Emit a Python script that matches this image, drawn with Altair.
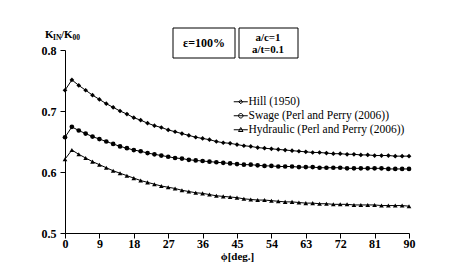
import altair as alt
import pandas as pd

# ---- data ----
deg = [round(1.8 * i, 1) for i in range(51)]

hill = [0.734, 0.751, 0.742, 0.734, 0.726, 0.719, 0.712, 0.706, 0.700, 0.695,
        0.689, 0.685, 0.680, 0.676, 0.673, 0.669, 0.666, 0.663, 0.660, 0.657,
        0.655, 0.653, 0.650, 0.648, 0.647, 0.645, 0.643, 0.642, 0.640, 0.639,
        0.638, 0.637, 0.636, 0.635, 0.634, 0.633, 0.632, 0.632, 0.631, 0.630,
        0.630, 0.629, 0.629, 0.628, 0.628, 0.627, 0.627, 0.627, 0.626, 0.626,
        0.626]

swage = [0.657, 0.674, 0.668, 0.663, 0.658, 0.654, 0.650, 0.646, 0.642, 0.639,
         0.636, 0.634, 0.631, 0.629, 0.627, 0.625, 0.623, 0.622, 0.620, 0.619,
         0.618, 0.617, 0.616, 0.615, 0.614, 0.613, 0.612, 0.612, 0.611, 0.610,
         0.610, 0.609, 0.609, 0.609, 0.608, 0.608, 0.608, 0.607, 0.607, 0.607,
         0.607, 0.606, 0.606, 0.606, 0.606, 0.606, 0.606, 0.605, 0.605, 0.605,
         0.605]

hydraulic = [0.621, 0.636, 0.629, 0.623, 0.617, 0.612, 0.607, 0.602, 0.598, 0.594,
             0.590, 0.586, 0.583, 0.580, 0.577, 0.575, 0.573, 0.570, 0.568, 0.566,
             0.565, 0.563, 0.561, 0.560, 0.559, 0.558, 0.556, 0.555, 0.554, 0.554,
             0.553, 0.552, 0.551, 0.551, 0.550, 0.549, 0.549, 0.548, 0.548, 0.547,
             0.547, 0.547, 0.546, 0.546, 0.546, 0.546, 0.545, 0.545, 0.545, 0.545,
             0.544]

series_names = ["Hill (1950)", "Swage (Perl and Perry (2006))",
                "Hydraulic (Perl and Perry (2006))"]
x_ticks = [0, 9, 18, 27, 36, 45, 54, 63, 72, 81, 90]
y_ticks = [0.5, 0.6, 0.7, 0.8]
box1_text = ["ε=100%"]
box2_text = ["a/c=1", "a/t=0.1"]

rows = []
for name, vals in zip(series_names, [hill, swage, hydraulic]):
    for d, v in zip(deg, vals):
        rows.append({"deg": d, "K": v, "series": name})
df = pd.DataFrame(rows)

FONT = "Liberation Serif"

x_axis = alt.Axis(values=x_ticks, title="ϕ[deg.]", grid=False,
                  labelOverlap=False, labelBound=False, labelFlush=False,
                  labelFont=FONT, labelFontWeight="bold", labelFontSize=12,
                  titleFont=FONT, titleFontWeight="bold", titleFontSize=11,
                  labelPadding=0, tickSize=5,
                  titleY=23.5, titleBaseline="middle",
                  domainColor="black", tickColor="black",
                  labelColor="black", titleColor="black")
y_axis = alt.Axis(values=y_ticks, format=".1f", title=None, grid=False,
                  labelOverlap=False,
                  labelFont=FONT, labelFontWeight="bold", labelFontSize=12,
                  labelPadding=4, tickSize=5,
                  domainColor="black", tickColor="black",
                  labelColor="black")
x_scale = alt.Scale(domain=[0, 90], nice=False)
y_scale = alt.Scale(domain=[0.5, 0.8], nice=False, zero=False)

def X():
    return alt.X("deg:Q", scale=x_scale, axis=x_axis)

def Y():
    return alt.Y("K:Q", scale=y_scale, axis=y_axis)

base = alt.Chart(df)

lines = base.mark_line(color="black", strokeWidth=1).encode(
    x=X(), y=Y(), detail="series:N")

points = base.mark_point(filled=True, color="black", size=22, opacity=1).encode(
    x=X(), y=Y(),
    shape=alt.Shape("series:N",
                    scale=alt.Scale(domain=series_names,
                                    range=["diamond", "circle", "triangle-up"]),
                    legend=None))

leg_paths = [
    "M-1.4,0H1.4M0,-0.4L0.4,0L0,0.4L-0.4,0Z",
    "M-1.4,0H1.4M-0.45,0A0.45,0.45 0 1,0 0.45,0A0.45,0.45 0 1,0 -0.45,0Z",
    "M-1.4,0H1.4M0,-0.45L0.45,0.35L-0.45,0.35Z",
]
legend_layer = base.transform_filter("false").mark_point(
    filled=False, color="black", strokeWidth=1, opacity=1).encode(
    x=X(), y=Y(),
    shape=alt.Shape("series:N",
                    scale=alt.Scale(domain=series_names, range=leg_paths),
                    legend=alt.Legend(title=None, orient="none", legendX=170, legendY=46,
                                      symbolSize=100, symbolStrokeWidth=1,
                                      symbolStrokeColor="black", symbolFillColor="black",
                                      symbolOpacity=1,
                                      labelFont=FONT, labelFontSize=11.5, labelColor="black",
                                      labelLimit=400,
                                      labelOffset=2, rowPadding=1, padding=0)))

one = alt.Chart(pd.DataFrame({"a": [0]}))
box1 = one.mark_rect(fill="white", stroke="black", strokeWidth=1).encode(
    x=alt.value(108), x2=alt.value(170), y=alt.value(-22), y2=alt.value(8))
box2 = one.mark_rect(fill="white", stroke="black", strokeWidth=1).encode(
    x=alt.value(174), x2=alt.value(233), y=alt.value(-22), y2=alt.value(8))
t1 = one.mark_text(font=FONT, fontWeight="bold", fontSize=12, align="center",
                   baseline="middle", color="black").encode(
    x=alt.value(139), y=alt.value(-7), text=alt.value(box1_text[0]))
t2 = one.mark_text(font=FONT, fontWeight="bold", fontSize=11, align="center",
                   baseline="middle", color="black").encode(
    x=alt.value(203), y=alt.value(-12.5), text=alt.value(box2_text[0]))
t3 = one.mark_text(font=FONT, fontWeight="bold", fontSize=11, align="center",
                   baseline="middle", color="black").encode(
    x=alt.value(203), y=alt.value(-0.5), text=alt.value(box2_text[1]))

def ytitle(txt, x, y, size):
    return one.mark_text(font=FONT, fontWeight="bold", fontSize=size, align="left",
                         baseline="middle", color="black").encode(
        x=alt.value(x), y=alt.value(y), text=alt.value(txt))

yt = [ytitle("K", -20, -15, 11), ytitle("IN", -12, -12.5, 7.5),
      ytitle("/K", -4, -15, 11), ytitle("00", 7.5, -12.5, 7.5)]

chart = alt.layer(lines, points, legend_layer, box1, box2, t1, t2, t3, *yt).resolve_scale(
    shape="independent"
).properties(
    width=344, height=183,
    autosize=alt.AutoSizeParams(type="none"),
    padding={"left": 57, "top": 42, "right": 51, "bottom": 29},
    background="white",
).configure_view(stroke=None)

chart.save("out.html", embed_options={"renderer": "svg", "actions": False})
